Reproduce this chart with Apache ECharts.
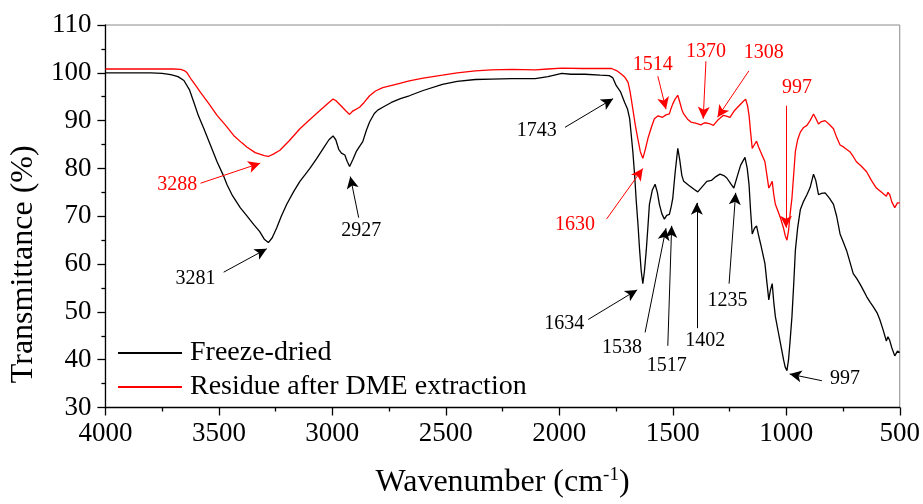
<!DOCTYPE html>
<html>
<head>
<meta charset="utf-8">
<script src="https://cdn.jsdelivr.net/npm/echarts@6/dist/echarts.min.js"></script>
<style>
html,body{margin:0;padding:0;background:#fff;}
#chart{width:923px;height:504px;}
</style>
</head>
<body>
<div id="chart"></div>
<script>
// ---- data (wavenumber cm^-1, transmittance %) ----
const seriesNames = ['Freeze-dried', 'Residue after DME extraction'];

const freezeWn = [4000,3900,3800,3750,3712,3680,3654,3630,3610,3590,3566,3540,3508,3480,3464,3440,3406,3380,3347,3320,3300,3282,3265,3245,3225,3201,3170,3143,3120,3099,3070,3040,3015,2997,2985,2972,2960,2945,2935,2924,2910,2895,2880,2866,2850,2836,2815,2800,2778,2740,2700,2661,2600,2515,2450,2370,2300,2209,2150,2106,2050,1989,1950,1887,1820,1780,1765,1749,1730,1712,1700,1690,1683,1676,1668,1661,1653,1646,1639,1632,1625,1617,1610,1603,1590,1578,1568,1559,1548,1537,1527,1515,1507,1500,1490,1478,1470,1460,1452,1430,1405,1390,1370,1350,1330,1310,1292,1275,1262,1245,1231,1215,1201,1182,1172,1164,1157,1150,1140,1131,1122,1113,1094,1085,1077,1070,1062,1055,1048,1036,1026,1012,1005,997,990,983,975,967,960,950,938,925,909,895,880,870,858,845,829,810,792,778,763,748,734,720,705,690,676,660,646,630,617,600,588,575,559,552,544,535,522,510,500];
const freezeT = [100.0,100.0,100.0,99.9,99.6,99.2,98.4,96.5,93.8,91.0,88.3,85.2,81.4,78.5,76.6,74.3,71.8,70.3,68.3,66.8,65.2,64.5,65.5,67.6,70.0,72.5,75.2,77.3,78.7,80.0,82.0,84.2,86.0,86.8,86.0,84.0,83.2,82.8,81.5,80.4,81.8,83.5,84.6,85.6,88.0,89.7,91.5,92.2,92.8,93.8,94.6,95.2,96.3,97.6,98.2,98.6,98.7,98.8,98.8,98.8,99.2,99.9,99.7,99.7,99.5,99.4,99.0,97.3,96.0,93.8,92.5,90.4,87.0,83.5,78.5,73.2,68.0,62.8,58.5,55.9,58.5,62.8,67.5,72.5,75.5,76.7,75.0,72.5,70.5,69.4,70.2,70.4,72.0,73.8,79.0,84.2,82.0,78.5,77.3,76.5,75.6,75.1,76.2,77.3,77.5,78.3,78.8,78.5,78.0,76.8,75.9,78.5,80.7,82.3,80.0,76.6,71.0,66.3,67.5,68.0,66.0,64.2,60.1,56.0,52.5,54.5,55.9,52.0,49.0,46.0,43.5,40.0,38.5,37.7,40.0,44.0,49.0,56.0,62.8,67.5,71.4,73.0,74.5,76.0,78.8,77.5,74.5,74.8,74.9,73.8,72.5,70.0,66.3,64.5,62.8,60.5,58.0,57.0,55.9,54.5,53.2,52.0,51.1,49.8,48.4,46.5,43.9,44.8,44.0,42.5,40.8,41.8,41.5];

const residueWn = [4000,3900,3800,3700,3668,3650,3640,3620,3600,3581,3545,3508,3470,3435,3400,3377,3340,3300,3282,3260,3231,3190,3143,3100,3055,3020,2997,2985,2960,2940,2924,2910,2880,2860,2836,2810,2778,2720,2661,2600,2515,2450,2370,2300,2209,2106,2050,1989,1900,1800,1770,1745,1726,1710,1697,1688,1676,1665,1654,1643,1632,1621,1610,1595,1581,1565,1545,1530,1515,1508,1500,1490,1478,1470,1460,1452,1435,1420,1400,1376,1362,1350,1335,1321,1300,1277,1260,1248,1230,1208,1190,1179,1170,1164,1157,1150,1140,1131,1122,1113,1094,1085,1077,1070,1062,1055,1048,1036,1026,1012,1005,997,990,983,975,967,960,950,938,925,909,895,880,870,858,845,829,810,792,778,763,748,735,720,705,691,670,646,625,603,580,559,552,544,535,522,510,500];
const residueT = [100.8,100.8,100.8,100.8,100.7,100.4,100.0,98.5,97.2,95.9,93.6,91.1,89.0,86.9,85.4,84.5,83.3,82.7,82.5,83.0,83.8,85.8,88.3,90.2,92.1,93.6,94.5,94.2,93.0,92.0,91.3,92.0,92.8,93.8,95.2,96.2,96.9,97.6,98.3,98.9,99.5,100.0,100.4,100.6,100.7,100.6,100.8,101.0,100.9,100.9,100.9,100.4,99.7,99.0,98.0,96.0,92.4,89.0,86.2,83.5,82.1,84.0,86.2,88.5,90.4,91.0,90.7,91.2,91.4,92.5,93.5,94.5,95.3,94.0,92.3,91.4,90.3,89.7,89.5,89.1,89.5,89.5,89.3,89.0,90.2,91.1,90.9,90.7,92.0,93.1,94.0,94.5,93.0,91.1,87.5,84.2,85.0,85.7,84.5,83.5,81.4,78.5,75.9,76.5,77.3,74.5,72.5,71.0,69.7,67.5,66.0,65.0,67.0,70.5,73.8,79.0,83.5,86.0,87.6,88.5,89.0,90.0,91.4,90.5,89.3,89.8,90.0,89.2,88.3,86.5,84.9,84.5,84.0,83.5,82.5,81.4,80.5,79.3,77.5,75.9,75.0,74.2,75.0,74.5,73.0,71.8,72.8,72.8];

// peak annotations: label, label anchor [wn, T], arrow start [wn, T], arrow tip [wn, T]
const freezeLabels = ['3281','2927','1743','1634','1538','1517','1402','1235','997'];
const freezeLabelAt = [[3603,57.0],[2873,67.0],[2099,87.8],[1978,47.5],[1724,42.4],[1527,38.7],[1357,43.9],[1259,52.3],[741,36.0]];
const freezeArrowFrom = [[3479,58.3],[2884,69.7],[1975,88.6],[1873,48.4],[1622,45.7],[1522,42.9],[1394,46.6],[1252,55.9],[843,35.6]];
const freezeArrowTo = [[3289,63.2],[2921,78.3],[1763,94.6],[1657,54.6],[1530,67.5],[1505,68.0],[1394,72.8],[1223,74.9],[985,37.0]];

const residueLabels = ['3288','1630','1514','1370','1308','997'];
const residueLabelAt = [[3683,76.6],[1931,68.3],[1588,101.7],[1354,104.4],[1099,104.1],[953,96.9]];
const residueArrowFrom = [[3581,76.9],[1792,69.4],[1566,99.3],[1354,102.4],[1165,100.4],[1001,93.1]];
const residueArrowTo = [[3318,81.1],[1632,80.0],[1530,92.4],[1366,90.4],[1303,90.7],[1001,67.6]];

const xTicks = [4000,3500,3000,2500,2000,1500,1000,500];
const yTicks = [30,40,50,60,70,80,90,100,110];

// ---- build ----
const FONT = "'Liberation Serif','Times New Roman',serif";
function pairs(xs, ys){ return xs.map((x,i)=>[x, ys[i]]); }
function arrows(from, to){ return from.map((f,i)=>[{coord:f},{coord:to[i]}]); }
function labels(names, at){ return names.map((n,i)=>({name:n, coord:at[i]})); }

function makeSeries(name, wn, t, color, lbls, at, from, to){
  return {
    name: name, type: 'line', data: pairs(wn, t), symbol: 'none', smooth: false,
    lineStyle: {color: color, width: 1.3}, itemStyle: {color: color},
    animation: false, silent: true,
    markLine: {
      silent: true, animation: false,
      symbol: ['none','arrow'], symbolSize: [9, 12],
      lineStyle: {color: color, width: 1, type: 'solid'},
      label: {show: false},
      emphasis: {disabled: true},
      data: arrows(from, to)
    },
    markPoint: {
      silent: true, animation: false,
      symbol: 'circle', symbolSize: 1,
      itemStyle: {color: 'rgba(0,0,0,0)'},
      label: {show: true, position: 'inside', formatter: '{b}', color: color, fontSize: 20, fontFamily: FONT},
      data: labels(lbls, at)
    }
  };
}

const chart = echarts.init(document.getElementById('chart'), null, {renderer: 'canvas'});
chart.setOption({
  backgroundColor: '#fff',
  animation: false,
  grid: {left: 103, right: 23, top: 25, bottom: 91, show: true, borderColor: '#8a8a8a', borderWidth: 1, containLabel: false},
  legend: {
    orient: 'vertical', left: 113, top: 334, itemWidth: 64, itemHeight: 2, itemGap: 6,
    icon: 'rect',
    data: seriesNames,
    textStyle: {fontSize: 28, fontFamily: FONT, color: '#000', padding: [0,0,0,3]},
    selectedMode: false
  },
  xAxis: {
    type: 'value', inverse: true, min: 500, max: 4000, interval: 500,
    name: 'Wavenumber (cm{sup|-1}{n|)}', nameLocation: 'middle', nameGap: 58,
    nameTextStyle: {fontSize: 32, fontFamily: FONT, color: '#000',
      rich: {sup: {fontSize: 19, fontFamily: FONT, color: '#000', padding: [0,0,16,0]}, n: {fontSize: 32, fontFamily: FONT, color: '#000'}}},
    axisLine: {show: true, onZero: false, lineStyle: {color: '#000', width: 1.3}},
    axisTick: {show: true, inside: false, length: 8, lineStyle: {color: '#000', width: 1.3}},
    minorTick: {show: true, splitNumber: 2, length: 4, lineStyle: {color: '#000', width: 1.3}},
    axisLabel: {fontSize: 27, fontFamily: FONT, color: '#000', margin: 13,
      formatter: function(v){ return String(v); }},
    splitLine: {show: false}
  },
  yAxis: {
    type: 'value', min: 30, max: 110, interval: 10,
    name: 'Transmittance (%)', nameLocation: 'middle', nameGap: 60,
    nameTextStyle: {fontSize: 32, fontFamily: FONT, color: '#000', padding: [0,96,0,0]},
    axisLine: {show: true, onZero: false, lineStyle: {color: '#000', width: 1.3}},
    axisTick: {show: true, inside: false, length: 8, lineStyle: {color: '#000', width: 1.3}},
    minorTick: {show: true, splitNumber: 2, length: 4, lineStyle: {color: '#000', width: 1.3}},
    axisLabel: {fontSize: 27, fontFamily: FONT, color: '#000', margin: 14,
      formatter: function(v){ return String(v); }},
    splitLine: {show: false}
  },
  series: [
    makeSeries(seriesNames[0], freezeWn, freezeT, '#000000', freezeLabels, freezeLabelAt, freezeArrowFrom, freezeArrowTo),
    makeSeries(seriesNames[1], residueWn, residueT, '#ff0000', residueLabels, residueLabelAt, residueArrowFrom, residueArrowTo)
  ]
});
</script>
</body>
</html>
